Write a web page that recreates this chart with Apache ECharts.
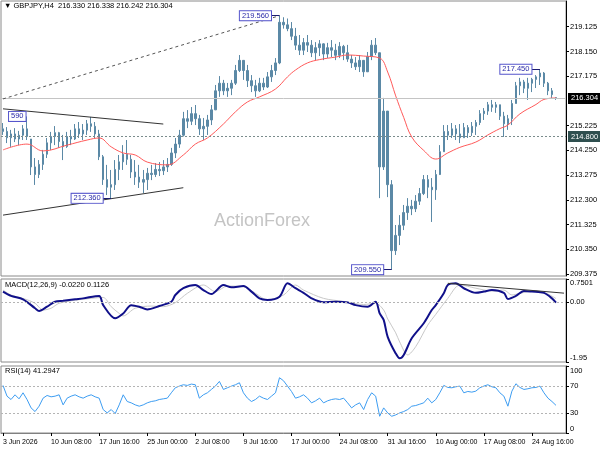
<!DOCTYPE html>
<html><head><meta charset="utf-8">
<script src="https://cdn.jsdelivr.net/npm/echarts@6/dist/echarts.min.js"></script>
<style>html,body{margin:0;padding:0;background:#fff}#c{width:600px;height:450px}</style>
</head><body><div id="c"></div>
<script>
// ---------- data ----------
const instrument = 'GBPJPY,H4';
const tickLabels = ['3 Jun 2026','10 Jun 08:00','17 Jun 16:00','25 Jun 00:00','2 Jul 08:00','9 Jul 16:00',
  '17 Jul 00:00','24 Jul 08:00','31 Jul 16:00','10 Aug 00:00','17 Aug 08:00','24 Aug 16:00'];
const priceTicks = [209.375,210.350,211.325,212.300,213.275,214.250,215.225,217.175,218.150,219.125];
const macdTicks = [-1.95, 0, 0.7501];
const macdTickText = ['-1.95', '0.00', '0.7501'];
const rsiTicks = [0, 30, 70, 100];
// [open, close, low, high]
const candles = [
[215.10,215.00,214.86,215.33],[215.00,214.75,214.54,215.17],[214.75,214.90,214.39,215.06],[214.90,214.70,214.58,215.13],
[214.70,214.85,214.46,215.02],[214.85,215.10,214.66,215.25],[215.10,214.80,214.66,215.59],[214.70,213.60,213.28,214.70],
[213.60,213.30,212.89,213.95],[213.30,213.70,213.16,213.87],[213.70,214.10,213.48,214.27],[214.10,214.55,213.95,214.74],
[214.55,214.80,214.27,214.98],[214.80,214.95,214.46,215.21],[214.95,214.60,214.35,214.98],[214.60,214.40,213.87,214.86],
[214.40,214.80,214.35,214.98],[214.80,214.70,214.46,215.06],[214.70,215.10,214.66,215.29],[215.10,214.90,214.74,215.37],
[214.90,215.05,214.66,215.29],[215.05,215.30,214.86,215.45],[215.30,215.20,214.98,215.57],[215.20,214.90,214.74,215.37],
[214.90,214.00,213.87,215.06],[214.00,213.10,212.89,214.07],[213.10,212.80,212.49,213.68],[212.80,212.90,212.36,213.48],
[212.90,213.50,212.69,213.87],[213.50,213.80,213.08,214.07],[213.80,214.10,213.48,214.46],[214.10,213.90,213.68,214.66],
[213.90,213.40,213.16,214.07],[213.40,213.20,212.89,213.87],[213.20,213.00,212.77,213.68],[213.00,213.10,212.57,213.48],
[213.10,213.35,212.69,213.56],[213.35,213.30,213.08,213.68],[213.30,213.50,213.20,213.75],[213.50,213.45,213.24,213.79],
[213.45,213.60,213.28,213.87],[213.60,213.70,213.40,213.95],[213.70,214.15,213.64,214.35],[214.15,214.50,213.95,214.74],
[214.50,214.85,214.35,215.06],[214.85,215.50,214.80,215.77],[215.50,215.40,215.13,215.84],[215.40,215.70,215.25,215.96],
[215.70,215.50,215.25,216.04],[215.50,215.10,214.86,215.65],[215.10,215.20,214.66,215.53],[215.20,215.45,214.86,215.65],
[215.45,215.85,215.25,216.04],[215.85,216.60,215.84,216.83],[216.60,216.90,216.36,217.18],[216.90,216.60,216.43,217.03],
[216.60,216.70,216.36,216.91],[216.70,216.90,216.43,217.03],[216.90,217.40,216.83,217.62],[217.40,217.80,217.34,218.01],
[217.80,217.40,217.03,217.81],[217.40,217.00,216.75,217.62],[217.00,216.80,216.55,217.22],[216.80,216.60,216.36,217.03],
[216.60,216.90,216.55,217.11],[216.90,216.75,216.63,217.11],[216.75,217.15,216.71,217.34],[217.15,217.40,216.95,217.62],
[217.40,217.70,217.22,217.89],[217.70,219.30,217.65,219.56],[219.30,219.20,219.05,219.50],[219.20,219.05,218.95,219.45],
[219.05,218.75,218.60,219.31],[218.75,218.40,218.21,219.08],[218.40,218.20,218.01,218.80],[218.20,218.50,218.01,218.68],
[218.50,218.40,218.13,218.80],[218.40,218.10,217.93,218.60],[218.10,218.30,217.81,218.52],[218.30,218.45,217.97,218.60],
[218.45,218.05,217.81,218.47],[218.05,218.30,217.89,218.49],[218.30,218.20,217.93,218.60],[218.20,218.00,217.81,218.45],
[218.00,218.35,217.89,218.52],[218.35,218.10,217.81,218.41],[218.10,217.85,217.74,218.41],[217.85,217.70,217.50,218.01],
[217.70,217.55,217.42,217.93],[217.55,217.80,217.34,218.01],[217.80,217.35,217.15,217.81],[217.35,217.95,217.34,218.13],
[217.95,218.40,217.81,218.60],[218.40,218.10,218.01,218.68],[218.10,213.60,212.37,218.10],[213.60,215.80,213.48,216.32],
[215.80,212.90,212.41,215.80],[212.90,210.30,209.55,213.08],[210.30,210.90,210.13,211.31],[210.90,211.30,210.52,211.70],
[211.30,211.80,211.11,212.10],[211.80,212.05,211.51,212.37],[212.05,211.95,211.70,212.30],[211.95,212.25,211.82,212.49],
[212.25,212.55,212.10,212.77],[212.55,213.10,212.49,213.28],[213.10,212.80,212.37,213.28],[212.80,212.70,211.43,213.16],
[212.70,213.30,212.30,213.48],[213.30,214.20,213.28,214.46],[214.20,215.00,214.20,215.25],[215.00,214.85,214.66,215.25],
[214.85,215.10,214.74,215.33],[215.10,214.90,214.66,215.25],[214.90,214.75,214.54,215.29],[214.75,215.15,214.75,215.33],
[215.15,214.95,214.74,215.25],[214.95,215.20,214.82,215.37],[215.20,215.35,214.86,215.45],[215.35,215.70,215.25,215.84],
[215.70,215.80,215.45,215.92],[215.80,216.05,215.65,216.16],[216.05,215.95,215.77,216.24],[215.95,216.05,215.73,216.16],
[216.05,215.60,215.45,216.05],[215.60,215.30,214.78,215.77],[215.30,215.50,215.06,215.65],[215.50,216.10,215.25,216.24],
[216.10,216.80,216.10,216.95],[216.80,216.95,216.43,217.11],[216.95,216.70,216.51,217.03],[216.70,216.90,216.24,217.11],
[216.90,217.05,216.55,217.11],[217.05,217.15,216.71,217.22],[217.15,217.30,216.83,217.45],[217.30,216.90,216.75,217.34],
[216.90,216.60,216.43,216.95],[216.60,216.45,216.32,216.71],[216.330,216.304,216.242,216.338]
];
const maIdx = [0,6,10,16,21,24,27,30,33,36,41,45,48,51,55,58,61,64,68,71,73,76,79,83,86,90,94,96,98,100,102,105,108,111,114,118,121,124,126,129,133,135,138];
const maVal = [214.27,214.50,214.23,214.46,214.66,214.74,214.39,214.15,214.07,213.79,213.68,214.07,214.50,214.74,215.29,215.77,216.16,216.36,216.67,217.15,
  217.42,217.70,217.83,217.93,218.01,217.97,217.89,217.34,216.40,215.55,214.78,214.25,213.91,214.15,214.37,214.58,214.86,215.11,215.25,215.69,216.06,216.26,216.32];
const macdIdx = [0,2,5,8,9,11,13,15,18,20,24,25,28,30,32,34,36,39,42,43,45,48,50,52,55,57,60,62,64,66,69,71,73,75,77,80,83,86,88,91,93,94,95,96,98,99,100,102,105,107,108,110,111,113,115,118,120,122,125,126,128,130,132,135,137,138];
const macdVal = [0.34,0.20,0.09,-0.20,-0.29,-0.15,0.01,0.04,0.09,0.12,0.20,-0.10,-0.53,-0.37,-0.10,-0.15,-0.24,-0.13,0.01,0.23,0.45,0.555,0.39,0.26,0.555,0.48,0.52,0.34,0.12,0.07,0.175,0.61,0.45,0.30,0.12,-0.01,0.01,-0.01,-0.10,-0.15,0.01,-0.37,-0.58,-1.13,-1.67,-1.83,-1.72,-1.18,-0.69,-0.26,-0.10,0.285,0.555,0.61,0.45,0.30,0.34,0.39,0.30,0.10,0.20,0.36,0.34,0.30,0.12,-0.022];
const sigIdx = [0,2,5,8,10,12,14,18,22,25,27,29,30,33,37,40,43,46,50,53,56,60,63,66,70,73,75,80,85,90,93,95,96,98,99,101,103,106,108,111,114,118,122,125,127,129,133,136,138];
const sigVal = [0.39,0.23,0.12,-0.04,-0.26,-0.20,-0.04,0.06,0.12,0.15,-0.15,-0.37,-0.45,-0.20,-0.13,-0.15,-0.02,0.285,0.555,0.34,0.52,0.50,0.285,0.07,0.23,0.555,0.39,0.12,0.02,-0.08,-0.04,-0.26,-0.55,-1.0,-1.3,-1.72,-1.45,-0.75,-0.40,0.12,0.555,0.45,0.36,0.39,0.23,0.285,0.37,0.26,0.1126];
const rsiVal = [71,55,50,57,51,60,50,37.5,32,40, 52,56,54,55,57,42,52,55,57,54, 52,55,57,54,52,35,30,35,29,42,
  57,47,45,42,40,42,45,47,48,50, 51,52,60,67.5,70,72,71,73,72,52, 57,60,65,70,77,65,67.5,70,72,75,
  60,52,47,50,55,52,50,55,60,82.5, 78,70,62,52,54,57,52,45,48,52, 45,48,50,51,50,52,45,37.5,42,45,
  35,50,60,55,25,37.5,30,25,27,30, 32,35,40,41,43,45,52,45,50,60, 71,68,67.5,69,70,60,62,61,62.5,67.5,
  70,72,69,67.5,60,55,40,62.5,73.5,68, 65,66,67.5,68,70,60,52,47,41.2947];
const macdText = 'MACD(12,26,9) -0.0220 0.1126';
const rsiText = 'RSI(14) 41.2947';
const watermark = 'ActionForex';
const tagIdx = [69, 6, 27, 97, 134];
const tagVal = [219.56, 215.59, 212.36, 209.55, 217.45];
const tagText = ['219.560', '590', '212.360', '209.550', '217.450'];
const trendA = [[0, 216.28], [69, 219.56]];   // dotted line to the high
const trendUp = [[0, 215.89], [40, 215.29]];  // triangle upper
const trendLo = [[0, 211.70], [45, 212.78]];  // triangle lower
const macdTrend = [[111, 0.61], [140, 0.29]];
const level = 214.800;

// ---------- build ----------
const N = 141;
const cats = [];
for (let i = 0; i < N; i++) cats.push(i % 12 === 0 && tickLabels[i / 12] ? tickLabels[i / 12] : String(i));
const last = candles[candles.length - 1];
const header = '\u25BC ' + instrument + '  ' + last[0].toFixed(3) + ' ' + last[3].toFixed(3) + ' ' + last[2].toFixed(3) + ' ' + last[1].toFixed(3);
const FONT = 'Liberation Sans, Arial, sans-serif';
const pairs = (ix, v) => ix.map((x, k) => [x, v[k]]);
const candleColor = '#5b89a6';
const rsiTop = rsiTicks[rsiTicks.length - 1];
const RSI_TOP_PX = 366, AXIS_RIGHT_PX = 566;

const tagPoints = tagIdx.map((ix, k) => ({
  coord: [ix, tagVal[k]], symbol: 'rect', symbolSize: 1, itemStyle: { color: 'rgba(0,0,0,0)' },
  label: { show: true, position: 'left', distance: tagText[k].length < 5 ? 1 : 8, formatter: tagText[k],
    color: '#2a2aa8', backgroundColor: '#ffffff', borderColor: '#5555cc', borderWidth: 1,
    padding: [1, 2, 0, 2], fontSize: 7.5, fontFamily: FONT }
}));
const segLine = (p, style) => [{ coord: p[0], lineStyle: style }, { coord: p[1], lineStyle: style }];
const connectors = tagIdx.filter((_, k) => tagText[k].length > 4).map(ix => {
  const k = tagIdx.indexOf(ix);
  return segLine([[ix - 2, tagVal[k]], [ix, tagVal[k]]], { color: '#1c1c70', width: 1, type: 'solid' });
});

const yBase = {
  position: 'right', scale: true,
  axisLine: { show: true, lineStyle: { color: '#000', width: 1 } },
  splitLine: { show: false },
  axisLabel: { fontSize: 7.5, color: '#000', fontFamily: FONT, margin: 4, showMinLabel: true, showMaxLabel: true, hideOverlap: false },
  axisTick: { show: true, length: 3, lineStyle: { color: '#000' } }
};
const gridBase = { show: true, borderColor: '#8a8a8a', borderWidth: 1, left: 1, width: 565, outerBoundsMode: 'none', containLabel: false };
const xBase = (gi, show) => ({
  type: 'category', gridIndex: gi, data: cats, boundaryGap: true, show: show,
  axisLine: { show: true, lineStyle: { color: '#808080' } },
  axisTick: { show: show, interval: 11, alignWithLabel: true, length: 3, lineStyle: { color: '#000' } },
  axisLabel: { show: show, interval: 11, align: 'left', fontSize: 7, color: '#000', fontFamily: FONT, margin: 6 },
  splitLine: { show: false }
});
const txt = (text, left, top, extra) => ({ text: text, left: left, top: top, padding: 0,
  textStyle: Object.assign({ fontSize: 7.5, fontWeight: 'normal', color: '#000', fontFamily: FONT }, extra || {}) });

const option = {
  animation: false,
  backgroundColor: '#ffffff',
  title: [
    txt(header, 4, 2),
    txt(macdText, 5, 281),
    txt(rsiText, 5, 367),
    Object.assign(txt(watermark, 214, 212, { fontSize: 18, color: '#c4c4c4' }), { z: 0 })
  ],
  graphic: [{
    type: 'text', left: AXIS_RIGHT_PX + 4, top: RSI_TOP_PX + 1, z: 200, silent: true,
    style: { text: String(rsiTop), fill: '#000', fontSize: 7.5, fontFamily: FONT }
  }],
  grid: [
    Object.assign({ top: 1, height: 275 }, gridBase),
    Object.assign({ top: 279, height: 83 }, gridBase),
    Object.assign({ top: RSI_TOP_PX, height: 67 }, gridBase)
  ],
  xAxis: [xBase(0, false), xBase(1, false), xBase(2, true)],
  yAxis: [
    Object.assign({}, yBase, { gridIndex: 0, min: 209.30, max: 220.14,
      axisLabel: Object.assign({}, yBase.axisLabel, { customValues: priceTicks, formatter: v => Number(v).toFixed(3) }),
      axisTick: Object.assign({}, yBase.axisTick, { customValues: priceTicks }) }),
    Object.assign({}, yBase, { gridIndex: 1, min: -1.95, max: 0.7501,
      axisLabel: Object.assign({}, yBase.axisLabel, { customValues: macdTicks,
        verticalAlignMinLabel: 'bottom', verticalAlignMaxLabel: 'top',
        formatter: v => macdTickText[macdTicks.indexOf(Number(v))] }),
      axisTick: Object.assign({}, yBase.axisTick, { customValues: macdTicks }) }),
    Object.assign({}, yBase, { gridIndex: 2, min: 0, max: 100,
      axisLabel: Object.assign({}, yBase.axisLabel, { customValues: rsiTicks.slice(0, -1),
        verticalAlignMinLabel: 'bottom',
        formatter: v => String(Number(v)) }),
      axisTick: Object.assign({}, yBase.axisTick, { customValues: rsiTicks }) })
  ],
  series: [
    {
      type: 'candlestick', xAxisIndex: 0, yAxisIndex: 0, data: candles, barWidth: 2,
      itemStyle: { color: candleColor, color0: candleColor, borderColor: candleColor, borderColor0: candleColor, borderWidth: 1 },
      markLine: {
        silent: true, symbol: ['none', 'none'], animation: false,
        data: [
          { yAxis: last[1], lineStyle: { color: '#c4c4c4', width: 1, type: 'solid' },
            label: { show: true, position: 'end', distance: 2, formatter: last[1].toFixed(3), color: '#fff', backgroundColor: '#000',
              padding: [2, 3, 1, 3], fontSize: 7.5, fontFamily: FONT } },
          { yAxis: level, lineStyle: { color: '#7a8c8c', width: 1, type: [2, 2] },
            label: { show: true, position: 'end', distance: 2, formatter: level.toFixed(3), color: '#fff', backgroundColor: '#2f4f4f',
              padding: [2, 3, 1, 3], fontSize: 7.5, fontFamily: FONT } },
          segLine(trendA, { color: '#555', width: 1, type: [3, 3] }),
          segLine(trendUp, { color: '#333', width: 1, type: 'solid' }),
          segLine(trendLo, { color: '#333', width: 1, type: 'solid' })
        ].concat(connectors).map(d => Array.isArray(d) ? d.map(p => Object.assign({ label: { show: false } }, p)) : d)
      },
      markPoint: { silent: true, animation: false, data: tagPoints }
    },
    {
      type: 'line', xAxisIndex: 0, yAxisIndex: 0, data: pairs(maIdx, maVal), smooth: 0.4, symbol: 'none',
      lineStyle: { color: '#ff5a5a', width: 1 }, z: 3
    },
    {
      type: 'line', xAxisIndex: 1, yAxisIndex: 1, data: pairs(sigIdx, sigVal), smooth: 0.3, symbol: 'none',
      lineStyle: { color: '#c8c8c8', width: 1 },
      markLine: { silent: true, symbol: ['none', 'none'], label: { show: false },
        data: [
          { yAxis: 0, lineStyle: { color: '#b4b4b4', width: 1, type: [2, 2] } },
          segLine(macdTrend, { color: '#333', width: 1, type: 'solid' })
        ] }
    },
    {
      type: 'line', xAxisIndex: 1, yAxisIndex: 1, data: pairs(macdIdx, macdVal), smooth: 0.3, symbol: 'none',
      lineStyle: { color: '#10108a', width: 2 }, z: 4
    },
    {
      type: 'line', xAxisIndex: 2, yAxisIndex: 2, data: rsiVal, symbol: 'none',
      lineStyle: { color: '#3d9df2', width: 1 },
      markLine: { silent: true, symbol: ['none', 'none'], label: { show: false },
        data: [
          { yAxis: 70, lineStyle: { color: '#b4b4b4', width: 1, type: [2, 2] } },
          { yAxis: 30, lineStyle: { color: '#b4b4b4', width: 1, type: [2, 2] } }
        ] }
    }
  ]
};
const chart = echarts.init(document.getElementById('c'), null, { renderer: 'canvas' });
chart.setOption(option);
</script>
</body></html>
